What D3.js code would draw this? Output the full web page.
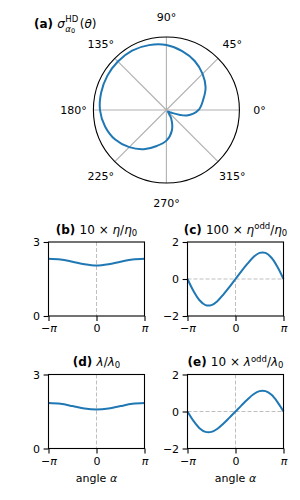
<!DOCTYPE html>
<html><head><meta charset="utf-8">
<script src="https://cdn.jsdelivr.net/npm/d3@7"></script>
<style>
html,body{margin:0;padding:0;background:#fff;}
svg{display:block;font-family:"DejaVu Sans",sans-serif;}
</style></head>
<body>
<script>
// ---------- data ----------
// polar panel (a): angle theta (degrees) and radius (relative)
const polarTheta = [0,15,30,45,60,75,90,105,120,135,150,165,180,195,210,225,240,255,270,285,300,315,330,345];
const polarR     = [0.44,0.52,0.62,0.70,0.775,0.835,0.89,0.92,0.94,0.94,0.935,0.925,0.91,0.87,0.81,0.72,0.62,0.51,0.42,0.29,0.13,0.03,0.07,0.29];
const polarGridAngles = [0,45,90,135,180,225,270,315];
const polarGridLabels = ["0°","45°","90°","135°","180°","225°","270°","315°"];

// line panels: alpha in units of pi
const alpha9  = [-1,-0.75,-0.5,-0.25,0,0.25,0.5,0.75,1];
const alpha17 = [-1,-0.875,-0.75,-0.625,-0.5,-0.375,-0.25,-0.125,0,0.125,0.25,0.375,0.5,0.625,0.75,0.875,1];
const etaVals     = [2.32,2.29,2.20,2.10,2.05,2.10,2.20,2.29,2.32];           // 10 x eta/eta0
const etaOddVals  = [0,-0.65,-1.15,-1.41,-1.41,-1.19,-0.83,-0.43,0,0.43,0.83,1.19,1.41,1.41,1.15,0.65,0]; // 100 x eta_odd/eta0
const lamVals     = [1.84,1.81,1.72,1.62,1.58,1.62,1.72,1.81,1.84];           // lambda/lambda0
const lamOddVals  = [0,-0.51,-0.90,-1.10,-1.10,-0.93,-0.65,-0.33,0,0.33,0.65,0.93,1.10,1.10,0.90,0.51,0]; // 10 x lambda_odd/lambda0
const xTickVals   = [-1,0,1];
const xTickLabels = ["−π","0","π"];
const yTicksPos   = [0,3];
const yTicksSym   = [-2,0,2];

// ---------- drawing ----------
const W=300,H=500, FS=11, TFS=12, BLUE="#1f77b4";
const svg=d3.select("body").append("svg").attr("width",W).attr("height",H);

// rich text helper
function rich(g, x, y, parts, anchor, fs){
  const t=g.append("text").attr("x",x).attr("y",y).attr("font-size",fs||FS).attr("text-anchor",anchor||"start").attr("fill","#000");
  parts.forEach(p=>{
    const s=t.append("tspan").text(p.t);
    if(p.b) s.attr("font-weight","bold");
    if(p.i) s.attr("font-style","italic");
    if(p.fs) s.attr("font-size",p.fs);
    if(p.dy) s.attr("dy",p.dy);
  });
  return t;
}

// ---- polar (a) ----
const cx=166.4, cy=110, R=73;
const rScale=d3.scaleLinear().domain([0,1]).range([0,R]);
const gp=svg.append("g").attr("transform",`translate(${cx},${cy})`);
gp.selectAll("line.grid").data(polarGridAngles).join("line")
  .attr("x1",0).attr("y1",0)
  .attr("x2",d=>R*Math.cos(d*Math.PI/180)).attr("y2",d=>-R*Math.sin(d*Math.PI/180))
  .attr("stroke","#b0b0b0").attr("stroke-width",1.1);
const polarData=polarTheta.map((a,i)=>({a:a,r:polarR[i]}));
const radial=d3.lineRadial().angle(d=>(90-d.a)*Math.PI/180).radius(d=>rScale(d.r)).curve(d3.curveCatmullRomClosed.alpha(0.5));
gp.append("path").attr("d",radial(polarData)).attr("fill","none").attr("stroke",BLUE).attr("stroke-width",2);
gp.append("circle").attr("r",R).attr("fill","none").attr("stroke","#000").attr("stroke-width",1.1);
gp.selectAll("text.lab").data(polarGridAngles).join("text")
  .attr("x",d=>93*Math.cos(d*Math.PI/180)).attr("y",d=>-93*Math.sin(d*Math.PI/180)+4)
  .attr("text-anchor","middle").attr("font-size",FS).text((d,i)=>polarGridLabels[i]);

// title (a)
const ta=rich(svg,34,28,[{t:"(a) ",b:true},{t:"σ",i:true}],"start",TFS);
const wa=ta.node().getComputedTextLength();
const subX=34+wa+0.5;
rich(svg,subX,31.5,[{t:"α",i:true,fs:8.5},{t:"0",fs:6.5,dy:1.5}]);
const sup=rich(svg,subX,22,[{t:"HD",fs:8.5}]);
const wsup=sup.node().getComputedTextLength();
rich(svg,subX+wsup+1.5,28,[{t:"(",},{t:"θ",i:true},{t:")"}],"start",TFS);

// ---- line panels ----
function panel(x0,y0,w,h,xs,ys,ydom,yticks,title,zeroH,xlabel){
  const g=svg.append("g");
  const x=d3.scaleLinear().domain([-1,1]).range([x0,x0+w]);
  const y=d3.scaleLinear().domain(ydom).range([y0+h,y0]);
  g.append("line").attr("x1",x(0)).attr("x2",x(0)).attr("y1",y0).attr("y2",y0+h)
    .attr("stroke","#bfbfbf").attr("stroke-width",1).attr("stroke-dasharray","4,2");
  if(zeroH) g.append("line").attr("x1",x0).attr("x2",x0+w).attr("y1",y(0)).attr("y2",y(0))
    .attr("stroke","#bfbfbf").attr("stroke-width",1).attr("stroke-dasharray","4,2");
  const data=xs.map((a,i)=>({a:a,v:ys[i]}));
  g.append("path").attr("d",d3.line().x(d=>x(d.a)).y(d=>y(d.v)).curve(d3.curveCatmullRom.alpha(0.5))(data))
    .attr("fill","none").attr("stroke",BLUE).attr("stroke-width",2);
  g.append("rect").attr("x",x0).attr("y",y0).attr("width",w).attr("height",h)
    .attr("fill","none").attr("stroke","#000").attr("stroke-width",1.1);
  const xa=d3.axisBottom(x).tickValues(xTickVals).tickSize(4.9).tickPadding(3.5).tickFormat((d,i)=>xTickLabels[i]);
  const gx=g.append("g").attr("transform",`translate(0,${y0+h})`).call(xa);
  const ya=d3.axisLeft(y).tickValues(yticks).tickSize(4.9).tickPadding(3.5).tickFormat(d=>d<0?"−"+Math.abs(d):String(d));
  const gy=g.append("g").attr("transform",`translate(${x0},0)`).call(ya);
  [gx,gy].forEach(a=>{
    a.select(".domain").remove();
    a.selectAll(".tick line").attr("stroke","#000").attr("stroke-width",1.1);
    a.selectAll("text").attr("font-size",FS).attr("font-family","DejaVu Sans").attr("fill","#000");
  });
  gx.selectAll(".tick text").each(function(d){
    const s=d3.select(this);
    if(d===1){ s.text(null); s.append("tspan").attr("font-style","italic").text("π"); }
    if(d===-1){ s.text(null); s.append("tspan").text("−"); s.append("tspan").attr("font-style","italic").text("π"); }
  });
  rich(g,x0+w/2,y0-8.5,title,"middle",TFS);
  if(xlabel) rich(g,x0+w/2,y0+h+33,[{t:"angle "},{t:"α",i:true}],"middle");
}

const tb=[{t:"(b) ",b:true},{t:"10 × "},{t:"η",i:true},{t:"/"},{t:"η",i:true},{t:"0",fs:8.5,dy:2}];
const tc=[{t:"(c) ",b:true},{t:"100 × "},{t:"η",i:true},{t:"odd",fs:8.5,dy:-4.5},{t:"/",dy:4.5},{t:"η",i:true},{t:"0",fs:8.5,dy:2}];
const td=[{t:"(d) ",b:true},{t:"λ",i:true},{t:"/"},{t:"λ",i:true},{t:"0",fs:8.5,dy:2}];
const te=[{t:"(e) ",b:true},{t:"10 × "},{t:"λ",i:true},{t:"odd",fs:8.5,dy:-4.5},{t:"/",dy:4.5},{t:"λ",i:true},{t:"0",fs:8.5,dy:2}];

panel(48.5,242,96,74,alpha9,etaVals,[0,3],yTicksPos,tb,false,false);
panel(187.5,242,96,74,alpha17,etaOddVals,[-2,2],yTicksSym,tc,true,false);
panel(48.5,374.5,96,74,alpha9,lamVals,[0,3],yTicksPos,td,false,true);
panel(187.5,374.5,96,74,alpha17,lamOddVals,[-2,2],yTicksSym,te,true,true);
</script>
</body></html>
